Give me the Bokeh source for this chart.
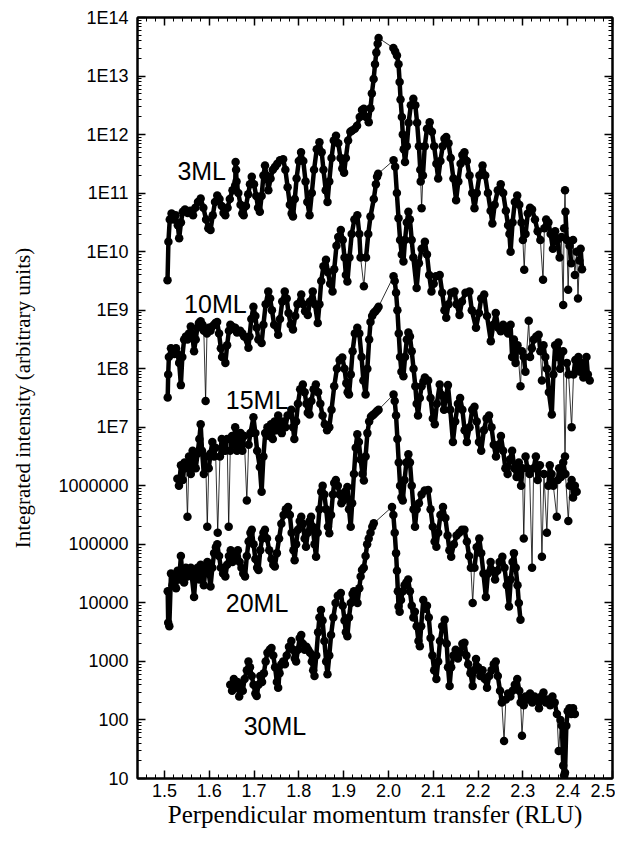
import numpy as np
from bokeh.plotting import figure
from bokeh.models import (Range1d, FixedTicker, LinearAxis, LogAxis,
                          CustomJSTickFormatter, PrintfTickFormatter)
from bokeh.core.properties import value
from bokeh.embed import file_html
from bokeh.resources import INLINE

# ---------------- data: (perpendicular momentum transfer [RLU], log10 of integrated intensity) ----------------
ml3_log10 = [
    (1.507, 9.51), (1.509, 10.17), (1.512, 10.55), (1.516, 10.65), (1.520, 10.55), (1.525, 10.62), (1.530, 10.45),
    (1.533, 10.23), (1.537, 10.50), (1.541, 10.68), (1.546, 10.72), (1.552, 10.66), (1.558, 10.70), (1.564, 10.62),
    (1.569, 10.75), (1.575, 10.85), (1.581, 10.91), (1.587, 10.75), (1.593, 10.55), (1.598, 10.40), (1.603, 10.37),
    (1.608, 10.62), (1.613, 10.85), (1.618, 10.96), (1.623, 10.90), (1.628, 10.78), (1.632, 10.66), (1.636, 10.62),
    (1.641, 10.75), (1.646, 10.90), (1.652, 11.05), (1.658, 11.13), (1.659, 11.53), (1.660, 11.40), (1.661, 11.20),
    (1.665, 11.00), (1.670, 10.80), (1.674, 10.65), (1.677, 10.62), (1.682, 10.78), (1.687, 10.98), (1.691, 11.15),
    (1.695, 11.28), (1.700, 11.15), (1.705, 10.95), (1.709, 10.75), (1.713, 10.68), (1.717, 10.95), (1.721, 11.30),
    (1.7245, 11.47), (1.728, 11.30), (1.732, 11.05), (1.737, 11.25), (1.742, 11.40), (1.747, 11.45), (1.752, 11.50),
    (1.758, 11.56), (1.765, 11.58), (1.770, 11.40), (1.775, 11.10), (1.780, 10.80), (1.784, 10.65), (1.787, 10.60),
    (1.791, 10.90), (1.795, 11.25), (1.800, 11.55), (1.805, 11.70), (1.810, 11.55), (1.815, 11.20), (1.819, 10.85),
    (1.824, 10.62), (1.829, 11.00), (1.834, 11.40), (1.840, 11.75), (1.846, 11.87), (1.851, 11.70), (1.855, 11.40),
    (1.860, 11.05), (1.864, 10.85), (1.868, 11.20), (1.873, 11.60), (1.878, 11.90), (1.883, 11.98), (1.888, 11.85),
    (1.893, 11.60), (1.897, 11.42), (1.901, 11.35), (1.905, 11.60), (1.910, 11.90), (1.915, 12.05), (1.919, 12.07),
    (1.925, 12.10), (1.930, 12.15), (1.936, 12.30), (1.941, 12.42), (1.945, 12.44), (1.950, 12.30), (1.956, 12.21),
    (1.960, 12.45), (1.963, 12.70), (1.967, 12.95), (1.970, 13.20), (1.973, 13.40), (1.976, 13.55), (1.978, 13.65),
    (2.011, 13.48), (2.015, 13.42), (2.019, 13.35), (2.0225, 13.20), (2.025, 12.90), (2.027, 12.60), (2.030, 12.30),
    (2.032, 12.00), (2.034, 11.75), (2.037, 11.53), (2.041, 11.80), (2.045, 12.20), (2.050, 12.50), (2.0556, 12.61),
    (2.060, 12.50), (2.064, 12.20), (2.068, 11.80), (2.071, 11.40), (2.072, 11.20), (2.074, 10.74), (2.077, 11.30),
    (2.081, 11.80), (2.086, 12.10), (2.092, 12.21), (2.097, 12.05), (2.102, 11.80), (2.107, 11.50), (2.111, 11.25),
    (2.116, 11.55), (2.121, 11.80), (2.125, 11.93), (2.129, 11.96), (2.134, 11.85), (2.139, 11.60), (2.145, 11.25),
    (2.151, 10.88), (2.156, 11.20), (2.161, 11.50), (2.165, 11.65), (2.1696, 11.70), (2.175, 11.55), (2.181, 11.30),
    (2.187, 11.00), (2.192, 10.74), (2.197, 11.00), (2.203, 11.30), (2.210, 11.47), (2.216, 11.30), (2.222, 11.00),
    (2.228, 10.70), (2.232, 10.48), (2.237, 10.80), (2.244, 11.05), (2.2506, 11.15), (2.256, 11.00), (2.262, 10.70),
    (2.267, 10.45), (2.270, 10.30), (2.2726, 10.00), (2.277, 10.50), (2.282, 10.85), (2.2874, 10.96), (2.292, 10.80),
    (2.297, 10.50), (2.300, 10.20), (2.303, 9.69), (2.306, 10.30), (2.311, 10.65), (2.316, 10.75), (2.3205, 10.72),
    (2.327, 10.55), (2.333, 10.35), (2.339, 10.20), (2.345, 9.52), (2.348, 10.40), (2.352, 10.55), (2.357, 10.50),
    (2.362, 10.30), (2.367, 10.05), (2.372, 10.35), (2.377, 10.20), (2.382, 9.90), (2.386, 10.25), (2.390, 9.09),
    (2.392, 10.40), (2.394, 11.05), (2.395, 10.68), (2.398, 10.20), (2.401, 9.35), (2.404, 10.10), (2.408, 9.80),
    (2.412, 10.20), (2.416, 9.60), (2.420, 10.00), (2.423, 9.20), (2.426, 9.85), (2.429, 10.05), (2.432, 9.70),
]

ml10_log10 = [
    (1.5074, 7.51), (1.5085, 7.90), (1.510, 8.20), (1.5147, 8.35), (1.518, 8.30), (1.522, 8.25), (1.526, 8.35),
    (1.5294, 8.25), (1.533, 8.10), (1.5368, 7.72), (1.540, 8.20), (1.544, 8.50), (1.548, 8.55), (1.5515, 8.50),
    (1.555, 8.60), (1.5589, 8.72), (1.562, 8.60), (1.5662, 8.30), (1.570, 8.50), (1.5736, 8.70), (1.577, 8.78),
    (1.581, 8.81), (1.585, 8.75), (1.588, 8.65), (1.592, 7.45), (1.595, 8.60), (1.599, 8.70), (1.603, 8.65),
    (1.6067, 8.72), (1.611, 8.75), (1.614, 8.78), (1.6177, 8.80), (1.622, 8.60), (1.626, 8.35), (1.6288, 8.20),
    (1.6361, 8.10), (1.640, 8.40), (1.644, 8.65), (1.6472, 8.75), (1.651, 8.72), (1.655, 8.68), (1.658, 8.70),
    (1.662, 8.62), (1.6692, 8.65), (1.674, 8.60), (1.678, 8.55), (1.6876, 8.36), (1.690, 8.55), (1.694, 8.85),
    (1.6987, 9.06), (1.703, 8.90), (1.706, 8.70), (1.7097, 8.50), (1.717, 8.44), (1.721, 8.75), (1.726, 9.10),
    (1.7318, 9.32), (1.736, 9.20), (1.740, 9.00), (1.745, 8.75), (1.7539, 8.58), (1.758, 8.85), (1.763, 9.15),
    (1.7686, 9.32), (1.773, 9.20), (1.777, 8.95), (1.782, 8.75), (1.787, 8.67), (1.792, 8.90), (1.797, 9.10),
    (1.8054, 9.27), (1.810, 9.10), (1.814, 8.98), (1.820, 8.92), (1.825, 9.15), (1.8311, 9.32), (1.836, 9.10),
    (1.8422, 8.78), (1.846, 9.10), (1.850, 9.50), (1.855, 9.75), (1.8606, 9.86), (1.865, 9.65), (1.870, 9.45),
    (1.8753, 9.32), (1.879, 9.70), (1.884, 10.10), (1.888, 10.25), (1.8937, 10.37), (1.898, 10.20), (1.902, 9.90),
    (1.905, 9.60), (1.9084, 9.49), (1.913, 9.90), (1.918, 10.30), (1.924, 10.55), (1.9305, 10.62), (1.935, 10.30),
    (1.9378, 9.90), (1.9452, 9.41), (1.950, 9.90), (1.955, 10.30), (1.9599, 10.60), (1.9673, 10.90), (1.972, 11.15),
    (1.9746, 11.28), (1.977, 11.33), (2.0114, 11.56), (2.015, 11.45), (2.0188, 11.00), (2.0225, 10.57),
    (2.026, 10.20), (2.0298, 9.95), (2.0335, 9.83), (2.037, 10.20), (2.041, 10.50), (2.0445, 10.68), (2.048, 10.55),
    (2.0519, 10.20), (2.0556, 9.90), (2.0629, 9.38), (2.068, 9.80), (2.074, 10.05), (2.0813, 10.17), (2.086, 9.95),
    (2.091, 9.60), (2.096, 9.32), (2.101, 9.45), (2.106, 9.58), (2.1144, 9.60), (2.120, 9.30), (2.125, 9.00),
    (2.129, 8.87), (2.134, 9.10), (2.140, 9.30), (2.1475, 9.32), (2.152, 9.10), (2.1586, 8.92), (2.164, 9.15),
    (2.172, 9.30), (2.1807, 9.32), (2.186, 9.00), (2.1954, 8.70), (2.202, 8.95), (2.207, 9.20), (2.2137, 9.27),
    (2.220, 8.90), (2.2285, 8.47), (2.234, 8.75), (2.2395, 8.95), (2.245, 8.70), (2.2506, 8.64), (2.256, 8.75),
    (2.262, 8.70), (2.267, 8.60), (2.2726, 8.75), (2.276, 8.20), (2.280, 8.50), (2.2837, 8.10), (2.288, 8.40),
    (2.2947, 7.70), (2.298, 8.30), (2.302, 8.20), (2.3057, 7.95), (2.3131, 8.82), (2.316, 8.20), (2.320, 8.35),
    (2.3241, 8.50), (2.330, 8.55), (2.3352, 8.58), (2.339, 8.30), (2.3425, 7.80), (2.346, 8.40), (2.350, 8.20),
    (2.3536, 8.00), (2.358, 7.60), (2.3646, 7.22), (2.368, 7.90), (2.372, 8.40), (2.376, 8.20), (2.3793, 8.45),
    (2.383, 8.00), (2.390, 8.30), (2.394, 6.50), (2.398, 8.10), (2.402, 7.90), (2.4088, 7.00), (2.413, 7.90),
    (2.417, 8.15), (2.4198, 8.00), (2.424, 8.20), (2.428, 7.95), (2.4308, 8.10), (2.435, 7.85), (2.4419, 8.20),
    (2.445, 7.90), (2.4492, 7.80),
]

ml15_log10 = [
    (1.529, 6.12), (1.5325, 6.00), (1.537, 6.35), (1.541, 6.10), (1.545, 6.40), (1.548, 6.30), (1.5515, 5.47),
    (1.555, 6.50), (1.559, 6.20), (1.563, 6.60), (1.566, 6.45), (1.570, 6.30), (1.574, 6.55), (1.578, 6.80),
    (1.581, 7.05), (1.584, 6.60), (1.588, 6.20), (1.592, 6.50), (1.5957, 5.30), (1.599, 6.30), (1.603, 6.55),
    (1.607, 6.75), (1.611, 6.50), (1.614, 6.65), (1.619, 5.20), (1.624, 6.50), (1.628, 6.80), (1.632, 6.60),
    (1.636, 6.60), (1.640, 6.80), (1.6435, 5.30), (1.647, 6.60), (1.651, 6.85), (1.655, 6.70), (1.658, 7.00),
    (1.662, 6.60), (1.666, 6.75), (1.670, 6.90), (1.674, 6.60), (1.678, 6.85), (1.684, 5.75), (1.688, 6.70),
    (1.692, 6.90), (1.6987, 7.17), (1.703, 6.90), (1.707, 6.60), (1.713, 6.32), (1.717, 5.90), (1.721, 6.50),
    (1.725, 6.90), (1.730, 7.00), (1.734, 6.85), (1.738, 7.05), (1.742, 6.80), (1.746, 7.10), (1.750, 6.95),
    (1.754, 7.20), (1.758, 7.10), (1.762, 6.90), (1.766, 7.10), (1.770, 7.00), (1.775, 7.20), (1.7833, 7.30),
    (1.787, 7.00), (1.790, 6.80), (1.794, 7.10), (1.798, 7.40), (1.803, 7.65), (1.809, 7.73), (1.813, 7.60),
    (1.817, 7.40), (1.820, 7.25), (1.824, 7.22), (1.828, 7.45), (1.833, 7.65), (1.838, 7.73), (1.843, 7.60),
    (1.848, 7.40), (1.853, 7.20), (1.858, 7.05), (1.863, 6.95), (1.868, 7.00), (1.873, 7.30), (1.879, 7.70),
    (1.885, 8.00), (1.891, 8.15), (1.897, 8.19), (1.902, 8.00), (1.906, 7.75), (1.909, 7.60), (1.912, 7.56),
    (1.916, 7.90), (1.920, 8.30), (1.925, 8.60), (1.9305, 8.70), (1.935, 8.60), (1.940, 8.20), (1.944, 7.80),
    (1.949, 7.56), (1.953, 8.00), (1.957, 8.50), (1.960, 8.80), (1.9636, 8.90), (1.967, 8.95), (1.971, 8.98),
    (1.975, 9.02), (1.978, 9.06), (2.0114, 9.58), (2.014, 9.50), (2.017, 9.30), (2.020, 9.00), (2.023, 8.60),
    (2.026, 8.20), (2.029, 7.95), (2.0335, 7.87), (2.037, 8.20), (2.041, 8.50), (2.0445, 8.62), (2.048, 8.55),
    (2.052, 8.30), (2.056, 8.00), (2.060, 7.70), (2.063, 7.40), (2.066, 7.20), (2.070, 7.50), (2.074, 7.70),
    (2.078, 7.78), (2.0813, 7.85), (2.0887, 7.80), (2.094, 7.50), (2.099, 7.15), (2.1034, 7.05), (2.108, 7.40),
    (2.1144, 7.73), (2.119, 7.55), (2.124, 7.30), (2.128, 7.50), (2.1328, 7.72), (2.138, 7.30), (2.1439, 6.75),
    (2.149, 7.10), (2.155, 7.40), (2.160, 7.50), (2.165, 7.30), (2.170, 6.95), (2.175, 6.75), (2.181, 7.00),
    (2.187, 7.30), (2.192, 7.35), (2.197, 7.10), (2.202, 6.75), (2.207, 6.60), (2.213, 6.95), (2.219, 7.15),
    (2.2245, 7.20), (2.230, 7.00), (2.235, 6.70), (2.240, 6.50), (2.246, 6.70), (2.251, 6.85), (2.256, 6.60),
    (2.261, 6.30), (2.266, 6.20), (2.271, 6.45), (2.276, 6.60), (2.281, 6.30), (2.286, 6.15), (2.291, 6.40),
    (2.296, 6.00), (2.299, 6.30), (2.302, 5.10), (2.306, 6.50), (2.310, 6.30), (2.315, 6.20), (2.3205, 4.60),
    (2.324, 6.30), (2.329, 6.50), (2.333, 6.10), (2.338, 6.35), (2.3425, 4.79), (2.347, 6.20), (2.3536, 5.20),
    (2.357, 6.00), (2.360, 6.35), (2.364, 6.20), (2.368, 6.00), (2.3757, 5.47), (2.378, 6.10), (2.381, 6.30),
    (2.385, 6.15), (2.390, 6.40), (2.395, 6.20), (2.4014, 5.40), (2.405, 6.00), (2.4088, 6.10), (2.412, 5.80),
    (2.416, 6.00), (2.420, 5.90),
]

ml20_log10 = [
    (1.5074, 4.20), (1.5085, 3.66), (1.511, 3.60), (1.5147, 4.50), (1.518, 4.30), (1.522, 4.45), (1.526, 4.25),
    (1.5294, 4.55), (1.533, 4.40), (1.5368, 4.80), (1.540, 4.50), (1.544, 4.35), (1.548, 4.60), (1.5515, 4.45),
    (1.555, 4.50), (1.559, 4.60), (1.5662, 4.10), (1.570, 4.50), (1.574, 4.60), (1.578, 4.40), (1.581, 4.65),
    (1.585, 4.55), (1.588, 4.30), (1.592, 4.60), (1.596, 4.70), (1.599, 4.50), (1.603, 4.28), (1.607, 4.60),
    (1.611, 4.85), (1.615, 4.95), (1.618, 5.00), (1.622, 4.80), (1.626, 4.60), (1.631, 4.50), (1.636, 4.45),
    (1.640, 4.65), (1.644, 4.80), (1.648, 4.90), (1.652, 4.70), (1.656, 4.85), (1.660, 4.75), (1.664, 4.90),
    (1.668, 4.70), (1.672, 4.60), (1.676, 4.50), (1.680, 4.45), (1.684, 4.80), (1.688, 5.05), (1.692, 5.20),
    (1.695, 5.25), (1.699, 5.00), (1.703, 4.75), (1.707, 4.60), (1.710, 4.56), (1.714, 4.90), (1.718, 5.10),
    (1.721, 5.20), (1.7244, 5.25), (1.729, 5.10), (1.734, 4.90), (1.739, 4.75), (1.743, 4.65), (1.7465, 4.62),
    (1.751, 4.85), (1.756, 5.10), (1.761, 5.35), (1.766, 5.50), (1.771, 5.60), (1.776, 5.64), (1.780, 5.50),
    (1.784, 5.20), (1.788, 4.90), (1.7907, 4.73), (1.794, 5.00), (1.798, 5.25), (1.802, 5.40), (1.8054, 5.47),
    (1.809, 5.35), (1.813, 5.10), (1.816, 4.96), (1.820, 5.20), (1.824, 5.40), (1.8274, 5.47), (1.831, 5.30),
    (1.835, 5.00), (1.8385, 4.79), (1.842, 5.20), (1.846, 5.60), (1.850, 5.90), (1.8532, 6.00), (1.857, 5.85),
    (1.861, 5.60), (1.865, 5.30), (1.868, 5.19), (1.872, 5.50), (1.876, 5.85), (1.879, 6.05), (1.8826, 6.10),
    (1.887, 6.00), (1.891, 5.85), (1.895, 5.70), (1.899, 5.75), (1.903, 5.90), (1.9084, 5.98), (1.912, 5.60),
    (1.9158, 5.30), (1.919, 5.70), (1.923, 6.20), (1.927, 6.65), (1.9305, 6.88), (1.934, 6.75), (1.938, 6.45),
    (1.942, 6.20), (1.9452, 6.09), (1.949, 6.50), (1.953, 6.90), (1.957, 7.10), (1.961, 7.18), (1.964, 7.20),
    (1.967, 7.22), (1.971, 7.25), (1.975, 7.28), (1.978, 7.30), (2.0114, 7.56), (2.014, 7.45), (2.017, 7.20),
    (2.020, 6.80), (2.023, 6.40), (2.026, 6.00), (2.029, 5.80), (2.032, 5.75), (2.036, 6.10), (2.040, 6.40),
    (2.0445, 6.54), (2.048, 6.40), (2.052, 6.00), (2.056, 5.60), (2.0593, 5.30), (2.063, 5.60), (2.068, 5.70),
    (2.074, 5.85), (2.081, 5.92), (2.0887, 5.93), (2.094, 5.60), (2.099, 5.30), (2.103, 5.05), (2.107, 4.96),
    (2.111, 5.20), (2.116, 5.50), (2.1218, 5.64), (2.127, 5.45), (2.132, 5.15), (2.136, 4.90), (2.140, 4.79),
    (2.146, 5.00), (2.152, 5.15), (2.158, 5.20), (2.164, 5.25), (2.1696, 5.25), (2.175, 5.05), (2.180, 4.80),
    (2.184, 4.60), (2.188, 4.00), (2.192, 4.60), (2.197, 4.95), (2.2027, 5.10), (2.207, 4.85), (2.212, 4.50),
    (2.2174, 4.10), (2.222, 4.50), (2.228, 4.70), (2.233, 4.55), (2.238, 4.40), (2.243, 4.55), (2.248, 4.70),
    (2.2542, 4.79), (2.259, 4.60), (2.264, 4.30), (2.269, 3.94), (2.273, 4.40), (2.277, 4.70), (2.280, 4.85),
    (2.284, 4.60), (2.288, 4.30), (2.291, 4.00), (2.2947, 3.71),
]

ml30_log10 = [
    (1.647, 2.60), (1.651, 2.50), (1.655, 2.70), (1.659, 2.55), (1.663, 2.65), (1.667, 2.40), (1.671, 2.60),
    (1.675, 2.50), (1.679, 2.70), (1.684, 2.85), (1.6876, 3.00), (1.691, 2.90), (1.695, 2.75), (1.699, 2.60),
    (1.703, 2.45), (1.706, 2.41), (1.710, 2.60), (1.714, 2.75), (1.718, 2.65), (1.722, 2.80), (1.726, 3.00),
    (1.730, 3.15), (1.735, 3.20), (1.739, 3.23), (1.743, 3.10), (1.747, 2.90), (1.751, 2.65), (1.7539, 2.55),
    (1.757, 2.80), (1.761, 2.95), (1.765, 3.00), (1.769, 2.95), (1.773, 3.10), (1.778, 3.25), (1.7833, 3.35),
    (1.787, 3.20), (1.791, 3.05), (1.794, 3.00), (1.798, 3.20), (1.802, 3.40), (1.8054, 3.45), (1.809, 3.30),
    (1.813, 3.20), (1.817, 3.25), (1.821, 3.20), (1.825, 3.15), (1.829, 3.00), (1.832, 2.85), (1.835, 2.75),
    (1.839, 3.10), (1.843, 3.50), (1.846, 3.75), (1.8495, 3.88), (1.853, 3.70), (1.857, 3.35), (1.861, 3.00),
    (1.864, 2.78), (1.868, 3.10), (1.872, 3.45), (1.877, 3.75), (1.882, 4.00), (1.887, 4.12), (1.8937, 4.17),
    (1.898, 3.95), (1.902, 3.70), (1.905, 3.50), (1.9084, 3.43), (1.912, 3.75), (1.916, 4.00), (1.920, 4.15),
    (1.923, 4.20), (1.927, 4.05), (1.931, 4.00), (1.935, 4.25), (1.938, 4.45), (1.941, 4.56), (1.945, 4.60),
    (1.949, 4.80), (1.9525, 5.00), (1.956, 5.10), (1.960, 5.20), (1.964, 5.30), (1.9673, 5.36), (2.008, 5.64),
    (2.011, 5.50), (2.014, 5.20), (2.017, 4.85), (2.019, 4.55), (2.021, 4.20), (2.0225, 3.94), (2.025, 3.85),
    (2.028, 4.05), (2.032, 4.20), (2.036, 4.30), (2.040, 4.35), (2.044, 4.40), (2.048, 4.20), (2.052, 3.95),
    (2.0556, 3.75), (2.059, 3.85), (2.063, 3.60), (2.067, 3.35), (2.070, 3.26), (2.073, 3.60), (2.0777, 4.05),
    (2.082, 3.90), (2.086, 3.95), (2.090, 3.75), (2.094, 3.40), (2.098, 3.10), (2.102, 2.85), (2.107, 2.70),
    (2.111, 3.00), (2.115, 3.35), (2.120, 3.60), (2.1255, 3.71), (2.130, 3.30), (2.133, 2.90), (2.1365, 2.58),
    (2.140, 2.90), (2.145, 3.10), (2.150, 3.20), (2.155, 3.05), (2.160, 3.15), (2.165, 3.30), (2.1696, 3.32),
    (2.174, 3.10), (2.178, 2.95), (2.183, 2.80), (2.188, 2.58), (2.1915, 2.85), (2.1954, 3.04), (2.200, 2.90),
    (2.205, 2.75), (2.210, 2.85), (2.215, 2.70), (2.220, 2.55), (2.225, 2.75), (2.230, 2.85), (2.235, 2.95),
    (2.2395, 3.00), (2.244, 2.75), (2.249, 2.50), (2.253, 2.30), (2.258, 1.64), (2.262, 2.35), (2.267, 2.45),
    (2.272, 2.40), (2.277, 2.50), (2.282, 2.60), (2.2874, 2.70), (2.292, 2.50), (2.295, 2.30), (2.298, 1.73),
    (2.302, 2.25), (2.306, 2.40), (2.311, 2.35), (2.316, 2.45), (2.321, 2.30), (2.326, 2.40), (2.331, 2.35),
    (2.336, 2.20), (2.341, 2.40), (2.346, 2.47), (2.351, 2.30), (2.356, 2.35), (2.361, 2.25), (2.366, 2.40),
    (2.371, 2.30), (2.376, 2.10), (2.380, 1.47), (2.384, 2.00), (2.387, 1.90), (2.390, 1.22), (2.392, 1.05),
    (2.394, 1.10), (2.397, 1.90), (2.400, 2.15), (2.404, 2.20), (2.408, 2.10), (2.412, 2.20), (2.416, 2.10),
]

series_names = ["3ML", "10ML", "15ML", "20ML", "30ML"]
series_data = [ml3_log10, ml10_log10, ml15_log10, ml20_log10, ml30_log10]

# label anchor points (x in RLU, intensity)
label_x = [1.529, 1.544, 1.637, 1.637, 1.677]
label_y = [2.4e11, 1.3e9, 2.9e7, 1.0e4, 80.0]

x_major = [1.5, 1.6, 1.7, 1.8, 1.9, 2.0, 2.1, 2.2, 2.3, 2.4, 2.5]
y_major = [1e1, 1e2, 1e3, 1e4, 1e5, 1e6, 1e7, 1e8, 1e9, 1e10, 1e11, 1e12, 1e13, 1e14]

# ---------------- figure ----------------
p = figure(width=615, height=832, output_backend="svg", toolbar_location=None,
           x_range=Range1d(1.44, 2.5), y_range=Range1d(10, 1e14), y_axis_type="log",
           min_border_left=137, min_border_right=3, min_border_top=17, min_border_bottom=54,
           background_fill_color="white", border_fill_color="white")
p.xgrid.visible = False
p.ygrid.visible = False
p.outline_line_color = "black"
p.outline_line_width = 2

x_minor = [round(1.44 + 0.02 * i, 2) for i in range(54)]
y_minor = [m * 10.0 ** e for e in range(1, 14) for m in range(2, 10)]

tick_font = "Liberation Sans"
lab_font = "Liberation Serif"

def style_axis(ax):
    ax.major_tick_in = 8
    ax.major_tick_out = 0
    ax.minor_tick_in = 4
    ax.minor_tick_out = 0
    ax.axis_line_width = 2
    ax.axis_line_color = "black"
    ax.major_tick_line_color = "black"
    ax.minor_tick_line_color = "black"
    ax.major_tick_line_width = 1.5
    ax.minor_tick_line_width = 1
    ax.major_label_text_font = tick_font
    ax.major_label_text_font_size = "18px"
    ax.major_label_text_color = "black"
    ax.axis_label_text_font = lab_font
    ax.axis_label_text_font_style = "normal"
    ax.axis_label_text_color = "black"

xa = p.xaxis[0]
xa.ticker = FixedTicker(ticks=x_major, minor_ticks=x_minor)
xa.formatter = PrintfTickFormatter(format="%.1f")
style_axis(xa)
xa.major_label_standoff = 5
xa.axis_label = "Perpendicular momentum transfer (RLU)"
xa.axis_label_text_font_size = "25px"
xa.axis_label_standoff = 1

ya = p.yaxis[0]
ya.ticker = FixedTicker(ticks=y_major, minor_ticks=y_minor)
ya.formatter = CustomJSTickFormatter(code="""
const e = Math.round(Math.log10(tick));
return e <= 6 ? String(Math.round(Math.pow(10, e))) : "1E" + e;
""")
style_axis(ya)
ya.major_label_standoff = 9
ya.axis_label = "Integrated intensity (arbitrary units)"
ya.axis_label_text_font_size = "21px"
ya.axis_label_standoff = 20

blank = CustomJSTickFormatter(code="return '';")
top = LinearAxis(ticker=FixedTicker(ticks=x_major, minor_ticks=x_minor), formatter=blank)
style_axis(top)
top.major_label_standoff = 0
top.major_label_text_font_size = "0px"
p.add_layout(top, "above")
right = LogAxis(ticker=FixedTicker(ticks=y_major, minor_ticks=y_minor), formatter=blank)
style_axis(right)
right.major_label_standoff = 0
right.major_label_text_font_size = "0px"
p.add_layout(right, "right")

for name, pts in zip(series_names, series_data):
    xs = [a for a, b in pts]
    lg = [b for a, b in pts]
    ys = [10.0 ** b for b in lg]
    n = len(xs)
    # isolated outliers (single points far from both neighbours) are joined by thin lines only
    spike = [False] * n
    for i in range(1, n - 1):
        if lg[i] < min(lg[i - 1], lg[i + 1]) - 0.45 or lg[i] > max(lg[i - 1], lg[i + 1]) + 0.3:
            spike[i] = True
    # thin connecting line through every point (also bridges the gap at the Bragg peak)
    p.line(xs, ys, line_color="black", line_width=0.8)
    # dense scan segments drawn as a thick trace
    seg_x, seg_y = [], []
    for i in range(n):
        thick_edge = (i > 0 and not spike[i] and not spike[i - 1] and xs[i] - xs[i - 1] <= 0.015)
        if not thick_edge:
            if len(seg_x) > 1:
                p.line(seg_x, seg_y, line_color="black", line_width=4.5, line_join="round")
            seg_x, seg_y = [], []
        if not spike[i]:
            seg_x.append(xs[i])
            seg_y.append(ys[i])
    if len(seg_x) > 1:
        p.line(seg_x, seg_y, line_color="black", line_width=4.5, line_join="round")
    p.scatter(xs, ys, size=8.5, fill_color="black", line_color=None)

p.text(x=label_x, y=label_y, text=series_names, text_font=value("Liberation Sans"),
       text_font_size="25px", text_color="black", text_align="left", text_baseline="alphabetic")

open("out.html", "w").write(file_html(p, INLINE))
